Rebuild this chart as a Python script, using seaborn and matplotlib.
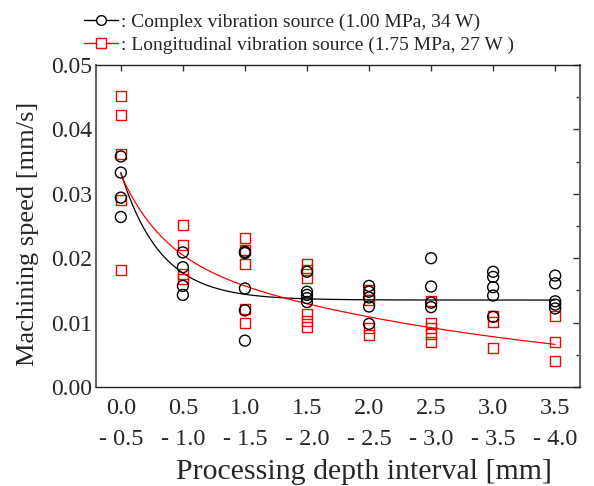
import numpy as np
import pandas as pd
import matplotlib
matplotlib.use("Agg")
import matplotlib.pyplot as plt
from matplotlib.lines import Line2D
from matplotlib.ticker import MultipleLocator
import seaborn as sns

# ---- data ----
intervals = [0.0, 0.5, 1.0, 1.5, 2.0, 2.5, 3.0, 3.5]
tick_labels = ["0.0\n- 0.5", "0.5\n- 1.0", "1.0\n- 1.5", "1.5\n- 2.0",
               "2.0\n- 2.5", "2.5\n- 3.0", "3.0\n- 3.5", "3.5\n- 4.0"]

complex_speed = [
    [0.0358, 0.0333, 0.0294, 0.0264],
    [0.0209, 0.0186, 0.0157, 0.0143],
    [0.0210, 0.0208, 0.0153, 0.0119, 0.0072],
    [0.0179, 0.0148, 0.0143, 0.0138, 0.0132],
    [0.0157, 0.0148, 0.0139, 0.0125, 0.0098],
    [0.0200, 0.0156, 0.0131, 0.0124],
    [0.0179, 0.0171, 0.0155, 0.0142, 0.0109],
    [0.0173, 0.0161, 0.0133, 0.0128, 0.0122],
]
longitudinal_speed = [
    [0.0452, 0.0422, 0.0362, 0.0291, 0.0182],
    [0.0251, 0.0221, 0.0176, 0.0168],
    [0.0231, 0.0213, 0.0191, 0.0121, 0.0100],
    [0.0191, 0.0181, 0.0170, 0.0113, 0.0103, 0.0093],
    [0.0150, 0.0135, 0.0092, 0.0080],
    [0.0133, 0.0100, 0.0091, 0.0082, 0.0070],
    [0.0111, 0.0101, 0.0060],
    [0.0111, 0.0070, 0.0040],
]

# fitted curve parameters (exponential decay models)
complex_fit = [0.0135, 0.0198, 3.1]            # c + a*exp(-k x)
longitudinal_fit = [0.012, 3.0, 0.021, 0.33]   # a*exp(-k1 x) + b*exp(-k2 x)

legend_labels = [": Complex vibration source (1.00 MPa, 34 W)",
                 ": Longitudinal vibration source (1.75 MPa, 27 W )"]

# ---- build tables ----
def long_table(values):
    rows = []
    for xv, vals in zip(intervals, values):
        for v in vals:
            rows.append((xv, v))
    return pd.DataFrame(rows, columns=["x", "y"])

df_c = long_table(complex_speed)
df_l = long_table(longitudinal_speed)

xs = np.linspace(intervals[0], intervals[-1], 300)
c0, a0, k0 = complex_fit
fit_c = c0 + a0 * np.exp(-k0 * xs)
a1, k1, b1, k2 = longitudinal_fit
fit_l = a1 * np.exp(-k1 * xs) + b1 * np.exp(-k2 * xs)
df_fc = pd.DataFrame({"x": xs, "y": fit_c})
df_fl = pd.DataFrame({"x": xs, "y": fit_l})

# ---- plot ----
sns.set_style("white")
plt.rcParams["font.family"] = ["Liberation Serif", "DejaVu Serif"]

fig = plt.figure(figsize=(5.94, 4.86), dpi=100)
ax = fig.add_axes([96 / 594, 1 - 387 / 486, (580 - 96) / 594, (387 - 65) / 486])

sns.lineplot(data=df_fc, x="x", y="y", ax=ax, color="black", linewidth=0.9)
sns.lineplot(data=df_fl, x="x", y="y", ax=ax, color="red", linewidth=0.9)

sns.scatterplot(data=df_l, x="x", y="y", ax=ax, marker="s", s=52,
                fc="none", ec="red", linewidth=1.0, zorder=3)
sns.scatterplot(data=df_c, x="x", y="y", ax=ax, marker="o", s=62,
                fc="none", ec="black", linewidth=1.0, zorder=4)

ax.set_xlim(-0.2, 3.7)
ax.set_ylim(0.0, 0.05)
ax.set_xticks(intervals)
ax.set_xticklabels(tick_labels, fontsize=17.5, linespacing=1.6)
ax.yaxis.set_minor_locator(MultipleLocator(0.005))
yt = np.arange(0, 0.0501, 0.01)
ax.set_yticks(yt)
ax.set_yticklabels([f"{v:.2f}" for v in yt], fontsize=17)

ax.tick_params(axis="both", which="both", direction="in", top=True, right=True,
               color="#333333")
ax.tick_params(axis="y", which="major", length=5, width=1, pad=3)
ax.tick_params(axis="y", which="minor", length=3, width=1)
ax.tick_params(axis="x", which="major", length=4, width=1, pad=8)

ax.set_xlabel("Processing depth interval [mm]", fontsize=21.5)
ax.set_ylabel("Machining speed [mm/s]", fontsize=19)
ax.xaxis.set_label_coords(0.554, -0.225)
ax.yaxis.set_label_coords(-0.118, 0.475)

for side in ["left", "right"]:
    ax.spines[side].set_color("#666666")
    ax.spines[side].set_linewidth(1.5)
for side in ["top", "bottom"]:
    ax.spines[side].set_color("#222222")
    ax.spines[side].set_linewidth(1.0)

handles = [
    Line2D([], [], color="black", linewidth=1, marker="o", markersize=7,
           markerfacecolor="white", markeredgecolor="black"),
    Line2D([], [], color="red", linewidth=1, marker="s", markersize=6.5,
           markerfacecolor="white", markeredgecolor="red"),
]
fig.legend(handles, legend_labels, loc="upper left",
           bbox_to_anchor=(80 / 594, 1 - 9 / 486), frameon=False,
           fontsize=14, handlelength=1.75, handletextpad=0.15,
           labelspacing=0.3, borderaxespad=0, borderpad=0.2)

fig.savefig("out.png", dpi=100)
